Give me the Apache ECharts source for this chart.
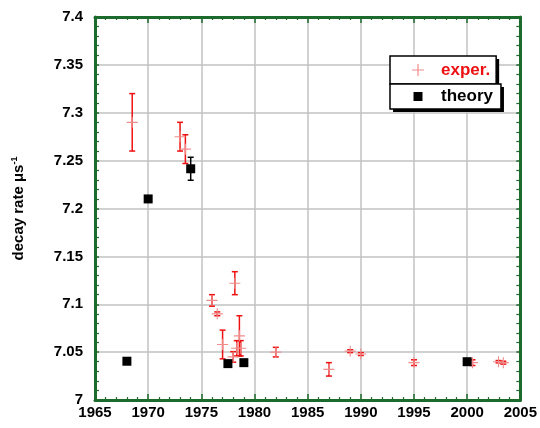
<!DOCTYPE html>
<html>
<head>
<meta charset="utf-8">
<script src="https://cdn.jsdelivr.net/npm/echarts@6/dist/echarts.min.js"></script>
<style>
  html, body { margin: 0; padding: 0; background: #fff; }
  #chart { width: 540px; height: 428px; }
</style>
</head>
<body>
<div id="chart"></div>
<script>
// experimental points: year, decay rate, error
var expYear = [1968.5, 1973, 1973.5, 1976, 1976.5, 1977, 1978, 1978.15, 1978.33, 1978.58, 1978.71, 1982, 1987, 1989, 1990, 1995, 2000.5, 2002.95, 2003.4];
var expRate = [7.290, 7.275, 7.262, 7.104, 7.090, 7.058, 7.045, 7.122, 7.054, 7.067, 7.054, 7.050, 7.032, 7.051, 7.048, 7.039, 7.039, 7.040, 7.039];
var expErr  = [0.030, 0.015, 0.015, 0.006, 0.002, 0.015, 0.0055, 0.012, 0.008, 0.021, 0.008, 0.005, 0.007, 0.0015, 0.0015, 0.003, 0.003, 0.0012, 0.0015];

// theory points
var thYear = [1968, 1970, 1974, 1977.5, 1979, 2000];
var thRate = [7.0405, 7.210, 7.2415, 7.038, 7.039, 7.040];
var thErr  = [0, 0, 0.012, 0, 0, 0];

(function () {
  var chart = echarts.init(document.getElementById('chart'), null, { renderer: 'canvas' });
  var font = '"Liberation Sans", Arial, Helvetica, sans-serif';
  var green = '#1d6b2c';
  var red = '#ee1111';
  var pink = '#f08c8c';
  var gridGray = '#c2c2c2';
  var plus = 'path://M0,4.5H10V5.5H0ZM4.5,0H5.5V10H4.5Z';

  function pts(xs, ys, es) {
    return xs.map(function (x, i) { return [x, ys[i], es[i]]; });
  }

  function errBar(color) {
    return function (params, api) {
      var e = api.value(2);
      if (!e) return null;
      var x = api.value(0), y = api.value(1);
      var hi = api.coord([x, y + e]);
      var lo = api.coord([x, y - e]);
      var w = 3;
      var st = { stroke: color, lineWidth: 1.5 };
      return {
        type: 'group',
        children: [
          { type: 'line', shape: { x1: hi[0], y1: hi[1], x2: lo[0], y2: lo[1] }, style: st },
          { type: 'line', shape: { x1: hi[0] - w, y1: hi[1], x2: hi[0] + w, y2: hi[1] }, style: st },
          { type: 'line', shape: { x1: lo[0] - w, y1: lo[1], x2: lo[0] + w, y2: lo[1] }, style: st }
        ]
      };
    };
  }

  var axisLine = { show: true, onZero: false, lineStyle: { color: green, width: 3 } };
  var xTick = { show: true, inside: true, length: 6, lineStyle: { color: green, width: 1.5 } };
  var yTick = { show: true, inside: true, length: 4, lineStyle: { color: green, width: 1.5 } };
  var minorX = { show: true, splitNumber: 5, length: 3, lineStyle: { color: green, width: 1.2 } };
  var minorY = { show: true, splitNumber: 5, length: 4, lineStyle: { color: green, width: 1.2 } };
  var split = { show: true, lineStyle: { color: gridGray, width: 1.5 } };
  var label = { color: '#000', fontSize: 15, fontWeight: 'bold', fontFamily: font };

  // one legend box: a black copy offset by 3px acts as the drop shadow
  function legendBox(name, top, icon, size, iconColor, textColor, pad, textPad) {
    var base = {
      orient: 'horizontal', selectedMode: false, borderRadius: 0,
      itemWidth: size, itemHeight: size, padding: pad
    };
    var shadow = Object.assign({}, base, {
      left: 393, top: top + 3, z: 3, backgroundColor: '#000', borderWidth: 0,
      data: [{ name: name, icon: icon, itemStyle: { color: 'transparent', opacity: 0 } }],
      textStyle: { color: 'transparent', fontSize: 17, fontWeight: 'bold', fontFamily: font, padding: textPad }
    });
    var box = Object.assign({}, base, {
      left: 390, top: top, z: 4, backgroundColor: '#fff', borderColor: '#000', borderWidth: 1.5,
      data: [{ name: name, icon: icon, itemStyle: { color: iconColor, opacity: 1 } }],
      textStyle: { color: textColor, fontSize: 17, fontWeight: 'bold', fontFamily: font, padding: textPad }
    });
    return [shadow, box];
  }

  var legends = legendBox('exper.', 56, plus, 12, pink, red, [5.5, 6, 5.5, 22], [0, 0, 0, 12])
    .concat(legendBox('theory', 84, 'rect', 9, '#000', '#000', [4, 8, 4, 23.5], [0, 0, 0, 13.5]));

  chart.setOption({
    animation: false,
    grid: { left: 95, right: 17.5, top: 17, bottom: 28 },
    legend: legends,
    xAxis: [
      { type: 'value', position: 'bottom', min: 1965, max: 2005, interval: 5,
        axisLine: axisLine, axisTick: xTick, minorTick: minorX, splitLine: split,
        axisLabel: Object.assign({ margin: 5, formatter: function (v) { return String(v); } }, label) },
      { type: 'value', position: 'top', min: 1965, max: 2005, interval: 5,
        axisLine: axisLine, axisTick: xTick, minorTick: minorX, splitLine: { show: false },
        axisLabel: { show: false } }
    ],
    yAxis: [
      { type: 'value', position: 'left', min: 7, max: 7.4, interval: 0.05,
        axisLine: axisLine, axisTick: yTick, minorTick: minorY, splitLine: split,
        axisLabel: Object.assign({ margin: 12 }, label),
        name: '{a|decay rate μs}{s|-1}', nameLocation: 'middle', nameRotate: 90, nameGap: 67,
        nameTextStyle: {
          rich: {
            a: { fontSize: 15, fontWeight: 'bold', fontFamily: font, color: '#000', lineHeight: 18 },
            s: { fontSize: 9, fontWeight: 'bold', fontFamily: font, color: '#000', verticalAlign: 'top', lineHeight: 18 }
          }
        } },
      { type: 'value', position: 'right', min: 7, max: 7.4, interval: 0.05,
        axisLine: axisLine, axisTick: yTick, minorTick: minorY, splitLine: { show: false },
        axisLabel: { show: false } }
    ],
    series: [
      { name: 'exper. err', type: 'custom', renderItem: errBar(red), data: pts(expYear, expRate, expErr), z: 2 },
      { name: 'exper.', type: 'scatter', symbol: plus, symbolSize: 11, itemStyle: { color: pink, opacity: 1 },
        data: pts(expYear, expRate, expErr), z: 3 },
      { name: 'theory err', type: 'custom', renderItem: errBar('#000'), data: pts(thYear, thRate, thErr), z: 4 },
      { name: 'theory', type: 'scatter', symbol: 'rect', symbolSize: 9, itemStyle: { color: '#000', opacity: 1 },
        data: pts(thYear, thRate, thErr), z: 5 }
    ]
  });
})();
</script>
</body>
</html>
